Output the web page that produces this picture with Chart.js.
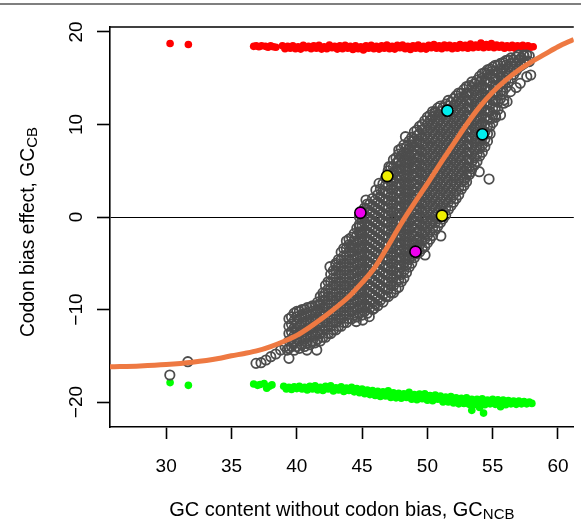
<!DOCTYPE html>
<html>
<head>
<meta charset="utf-8">
<script src="https://cdn.jsdelivr.net/npm/chart.js@4.4.1/dist/chart.umd.min.js"></script>
<style>
  html, body { margin: 0; padding: 0; background: #fff; }
</style>
</head>
<body>
<canvas id="chart" width="581" height="521"></canvas>
<script>
// axis ticks
const xTicks = [30, 35, 40, 45, 50, 55, 60];
const yTicks = [-20, -10, 0, 10, 20];

// red dots along the top (x, y)
const redPoints = [
  [30.3, 18.75], [31.7, 18.65],
  [36.7, 18.45], [36.9, 18.5], [37.1, 18.4], [37.3, 18.5], [37.6, 18.45], [37.8, 18.35], [38.0, 18.5], [38.2, 18.4], [38.4, 18.35],
  [38.9, 18.5], [39.1, 18.2], [39.3, 18.45], [39.5, 18.25], [39.7, 18.5], [39.9, 18.2], [40.1, 18.4], [40.3, 18.15],
  [40.5, 18.55], [40.7, 18.3], [40.9, 18.45], [41.1, 18.2], [41.3, 18.5], [41.5, 18.25], [41.7, 18.55], [41.9, 18.15],
  [42.1, 18.4], [42.3, 18.2], [42.5, 18.6], [42.7, 18.3], [42.9, 18.45], [43.1, 18.15], [43.3, 18.5], [43.5, 18.2],
  [43.7, 18.55], [43.9, 18.25], [44.1, 18.45], [44.3, 18.1], [44.5, 18.5], [44.7, 18.2], [44.9, 18.4], [45.1, 18.05],
  [45.3, 18.5], [45.5, 18.25], [45.7, 18.55], [45.9, 18.2], [46.1, 18.45], [46.3, 18.15], [46.5, 18.5], [46.7, 18.25],
  [46.9, 18.6], [47.1, 18.2], [47.3, 18.45], [47.5, 18.15], [47.7, 18.55], [47.9, 18.3], [48.1, 18.6], [48.3, 18.2],
  [48.5, 18.45], [48.7, 18.1], [48.9, 18.5], [49.1, 18.25], [49.3, 18.6], [49.5, 18.2], [49.7, 18.45], [49.9, 18.15],
  [50.1, 18.55], [50.3, 18.3], [50.5, 18.65], [50.7, 18.25], [50.9, 18.5], [51.1, 18.2], [51.3, 18.6], [51.5, 18.3],
  [51.7, 18.55], [51.9, 18.2], [52.1, 18.5], [52.3, 18.25], [52.5, 18.65], [52.7, 18.3], [52.9, 18.55], [53.1, 18.25],
  [53.3, 18.7], [53.5, 18.3], [53.7, 18.6], [53.9, 18.35], [54.1, 18.8], [54.3, 18.3], [54.5, 18.65], [54.7, 18.35],
  [54.9, 18.75], [55.1, 18.3], [55.3, 18.6], [55.5, 18.35], [55.7, 18.55], [55.9, 18.25], [56.1, 18.5], [56.3, 18.3],
  [56.5, 18.55], [56.7, 18.25], [56.9, 18.5], [57.1, 18.3], [57.3, 18.55], [57.5, 18.3], [57.7, 18.5], [57.9, 18.35], [58.1, 18.4]
];

// green dots along the bottom (x, y)
const greenPoints = [
  [30.3, -17.9], [31.7, -18.2],
  [36.7, -18.05], [37.0, -18.2], [37.2, -18.1], [37.5, -18.0], [37.7, -18.5], [37.9, -18.3], [38.1, -18.15],
  [39.0, -18.3], [39.2, -18.6], [39.4, -18.4], [39.6, -18.65], [39.8, -18.35], [40.0, -18.55], [40.2, -18.3], [40.4, -18.6],
  [40.6, -18.4], [40.8, -18.7], [41.0, -18.3], [41.2, -18.6], [41.4, -18.25], [41.6, -18.7], [41.8, -18.4], [42.0, -18.75],
  [42.2, -18.3], [42.4, -18.6], [42.6, -18.25], [42.8, -18.8], [43.0, -18.45], [43.2, -18.7], [43.4, -18.35], [43.6, -18.85],
  [43.8, -18.5], [44.0, -18.75], [44.2, -18.4], [44.4, -18.9], [44.6, -18.55], [44.8, -19.0], [45.0, -18.6], [45.2, -19.1],
  [45.4, -18.7], [45.6, -19.2], [45.8, -18.75], [46.0, -19.3], [46.2, -18.85], [46.4, -19.4], [46.6, -18.9], [46.8, -19.35],
  [47.0, -18.8], [47.2, -19.5], [47.4, -19.0], [47.6, -19.55], [47.8, -19.05], [48.0, -19.6], [48.2, -19.1], [48.4, -19.5],
  [48.6, -18.95], [48.8, -19.7], [49.0, -19.2], [49.2, -19.75], [49.4, -19.15], [49.6, -19.65], [49.8, -19.1], [50.0, -19.8],
  [50.2, -19.3], [50.4, -19.85], [50.6, -19.25], [50.8, -19.7], [51.0, -19.35], [51.2, -20.0], [51.4, -19.45], [51.6, -20.0],
  [51.8, -19.4], [52.0, -20.1], [52.2, -19.55], [52.4, -20.2], [52.6, -19.6], [52.8, -20.15], [53.0, -19.55], [53.2, -20.25],
  [53.4, -19.7], [53.6, -20.3], [53.8, -19.7], [54.0, -20.2], [54.2, -19.65], [54.4, -20.3], [54.6, -19.8], [54.8, -20.2],
  [55.0, -19.7], [55.2, -20.25], [55.4, -19.75], [55.6, -20.2], [55.8, -19.8], [56.0, -20.3], [56.2, -19.85], [56.4, -20.2],
  [56.6, -19.9], [56.8, -20.25], [57.0, -19.9], [57.2, -20.2], [57.4, -19.95], [57.6, -20.2], [57.8, -20.0], [58.0, -20.15],
  [45.1, -18.9], [45.7, -18.95], [46.1, -19.05], [46.7, -19.1], [47.1, -19.15], [47.7, -19.3], [48.1, -19.35], [48.7, -19.35],
  [49.1, -19.45], [49.7, -19.4], [50.1, -19.55], [50.7, -19.5], [51.1, -19.7], [51.7, -19.7], [52.1, -19.8], [52.7, -19.9],
  [53.1, -19.9], [53.7, -20.0], [54.1, -19.95], [54.7, -20.0], [55.1, -20.0],
  [53.4, -20.9], [54.3, -21.2], [54.0, -20.6], [55.6, -20.5]
];

// dense part of the grey cloud: each row is [x, y, y, ...]
const grayColumns = [
  [39.4, -14.2, -13.4, -12.6, -11.8, -11.0],
  [39.6, -14.0, -13.2, -12.4, -11.6, -10.8],
  [39.8, -14.4, -13.6, -12.8, -12.0, -11.2, -10.4],
  [40.0, -14.0, -13.2, -12.4, -11.6, -10.8, -10.2],
  [40.2, -14.2, -13.4, -12.6, -11.8, -11.0, -10.2],
  [40.4, -13.8, -13.0, -12.2, -11.4, -10.6, -10.0],
  [40.6, -14.0, -13.2, -12.4, -11.6, -10.8, -10.0],
  [40.8, -13.6, -12.8, -12.0, -11.2, -10.4, -9.8],
  [41.0, -13.8, -13.0, -12.2, -11.4, -10.6, -9.8],
  [41.2, -13.4, -12.6, -11.8, -11.0, -10.2, -9.6],
  [41.4, -13.6, -12.8, -12.0, -11.2, -10.4, -9.6],
  [41.6, -13.2, -12.4, -11.6, -10.8, -10.0, -9.2],
  [41.8, -13.4, -12.6, -11.8, -11.0, -10.2, -9.4, -8.6],
  [42.0, -13.0, -12.2, -11.4, -10.6, -9.8, -9.0, -8.2],
  [42.2, -13.0, -12.2, -11.4, -10.6, -9.8, -9.0, -8.2, -7.4],
  [42.4, -12.6, -11.8, -11.0, -10.2, -9.4, -8.6, -7.8, -7.0],
  [42.6, -12.6, -11.8, -11.0, -10.2, -9.4, -8.6, -7.8, -7.0, -6.2],
  [42.8, -12.2, -11.4, -10.6, -9.8, -9.0, -8.2, -7.4, -6.6, -5.8],
  [43.0, -12.2, -11.4, -10.6, -9.8, -9.0, -8.2, -7.4, -6.6, -5.8, -5.0],
  [43.2, -11.8, -11.0, -10.2, -9.4, -8.6, -7.8, -7.0, -6.2, -5.4, -4.6],
  [43.4, -11.8, -11.0, -10.2, -9.4, -8.6, -7.8, -7.0, -6.2, -5.4, -4.6, -3.8],
  [43.6, -11.4, -10.6, -9.8, -9.0, -8.2, -7.4, -6.6, -5.8, -5.0, -4.2, -3.4],
  [43.8, -11.4, -10.6, -9.8, -9.0, -8.2, -7.4, -6.6, -5.8, -5.0, -4.2, -3.4, -2.6],
  [44.0, -11.0, -10.2, -9.4, -8.6, -7.8, -7.0, -6.2, -5.4, -4.6, -3.8, -3.0, -2.4],
  [44.2, -11.0, -10.2, -9.4, -8.6, -7.8, -7.0, -6.2, -5.4, -4.6, -3.8, -3.0, -2.2],
  [44.4, -10.6, -9.8, -9.0, -8.2, -7.4, -6.6, -5.8, -5.0, -4.2, -3.4, -2.6, -1.8],
  [44.6, -10.8, -10.0, -9.2, -8.4, -7.6, -6.8, -6.0, -5.2, -4.4, -3.6, -2.8, -2.0, -1.2],
  [44.8, -10.4, -9.6, -8.8, -8.0, -7.2, -6.4, -5.6, -4.8, -4.0, -3.2, -2.4, -1.6, -0.8, 0.0],
  [45.0, -10.6, -9.8, -9.0, -8.2, -7.4, -6.6, -5.8, -5.0, -4.2, -3.4, -2.6, -1.8, -1.0, -0.2, 0.6],
  [45.2, -10.2, -9.4, -8.6, -7.8, -7.0, -6.2, -5.4, -4.6, -3.8, -3.0, -2.2, -1.4, -0.6, 0.2, 1.0],
  [45.4, -10.4, -9.6, -8.8, -8.0, -7.2, -6.4, -5.6, -4.8, -4.0, -3.2, -2.4, -1.6, -0.8, 0.0, 0.8, 1.4],
  [45.6, -9.8, -9.0, -8.2, -7.4, -6.6, -5.8, -5.0, -4.2, -3.4, -2.6, -1.8, -1.0, -0.2, 0.6, 1.4],
  [45.8, -10.0, -9.2, -8.4, -7.6, -6.8, -6.0, -5.2, -4.4, -3.6, -2.8, -2.0, -1.2, -0.4, 0.4, 1.2, 2.0],
  [46.0, -9.4, -8.6, -7.8, -7.0, -6.2, -5.4, -4.6, -3.8, -3.0, -2.2, -1.4, -0.6, 0.2, 1.0, 1.8],
  [46.2, -9.6, -8.8, -8.0, -7.2, -6.4, -5.6, -4.8, -4.0, -3.2, -2.4, -1.6, -0.8, 0.0, 0.8, 1.6, 2.4],
  [46.4, -9.0, -8.2, -7.4, -6.6, -5.8, -5.0, -4.2, -3.4, -2.6, -1.8, -1.0, -0.2, 0.6, 1.4, 2.2, 3.0],
  [46.6, -9.2, -8.4, -7.6, -6.8, -6.0, -5.2, -4.4, -3.6, -2.8, -2.0, -1.2, -0.4, 0.4, 1.2, 2.0, 2.8, 3.6],
  [46.8, -8.6, -7.8, -7.0, -6.2, -5.4, -4.6, -3.8, -3.0, -2.2, -1.4, -0.6, 0.2, 1.0, 1.8, 2.6, 3.4, 4.2],
  [47.0, -8.6, -7.8, -7.0, -6.2, -5.4, -4.6, -3.8, -3.0, -2.2, -1.4, -0.6, 0.2, 1.0, 1.8, 2.6, 3.4, 4.2, 5.0],
  [47.2, -8.2, -7.4, -6.6, -5.8, -5.0, -4.2, -3.4, -2.6, -1.8, -1.0, -0.2, 0.6, 1.4, 2.2, 3.0, 3.8, 4.6, 5.4],
  [47.4, -8.2, -7.4, -6.6, -5.8, -5.0, -4.2, -3.4, -2.6, -1.8, -1.0, -0.2, 0.6, 1.4, 2.2, 3.0, 3.8, 4.6, 5.4, 6.2],
  [47.6, -7.8, -7.0, -6.2, -5.4, -4.6, -3.8, -3.0, -2.2, -1.4, -0.6, 0.2, 1.0, 1.8, 2.6, 3.4, 4.2, 5.0, 5.8, 6.4],
  [47.8, -7.6, -6.8, -6.0, -5.2, -4.4, -3.6, -2.8, -2.0, -1.2, -0.4, 0.4, 1.2, 2.0, 2.8, 3.6, 4.4, 5.2, 6.0, 6.8],
  [48.0, -7.0, -6.2, -5.4, -4.6, -3.8, -3.0, -2.2, -1.4, -0.6, 0.2, 1.0, 1.8, 2.6, 3.4, 4.2, 5.0, 5.8, 6.6, 7.4],
  [48.2, -6.6, -5.8, -5.0, -4.2, -3.4, -2.6, -1.8, -1.0, -0.2, 0.6, 1.4, 2.2, 3.0, 3.8, 4.6, 5.4, 6.2, 7.0, 7.8],
  [48.4, -6.0, -5.2, -4.4, -3.6, -2.8, -2.0, -1.2, -0.4, 0.4, 1.2, 2.0, 2.8, 3.6, 4.4, 5.2, 6.0, 6.8, 7.6],
  [48.6, -5.4, -4.6, -3.8, -3.0, -2.2, -1.4, -0.6, 0.2, 1.0, 1.8, 2.6, 3.4, 4.2, 5.0, 5.8, 6.6, 7.4, 8.2],
  [48.8, -5.0, -4.2, -3.4, -2.6, -1.8, -1.0, -0.2, 0.6, 1.4, 2.2, 3.0, 3.8, 4.6, 5.4, 6.2, 7.0, 7.8, 8.6],
  [49.0, -4.4, -3.6, -2.8, -2.0, -1.2, -0.4, 0.4, 1.2, 2.0, 2.8, 3.6, 4.4, 5.2, 6.0, 6.8, 7.6, 8.4, 9.2],
  [49.2, -4.0, -3.2, -2.4, -1.6, -0.8, 0.0, 0.8, 1.6, 2.4, 3.2, 4.0, 4.8, 5.6, 6.4, 7.2, 8.0, 8.8, 9.4],
  [49.4, -3.8, -3.0, -2.2, -1.4, -0.6, 0.2, 1.0, 1.8, 2.6, 3.4, 4.2, 5.0, 5.8, 6.6, 7.4, 8.2, 9.0, 9.8],
  [49.6, -3.4, -2.6, -1.8, -1.0, -0.2, 0.6, 1.4, 2.2, 3.0, 3.8, 4.6, 5.4, 6.2, 7.0, 7.8, 8.6, 9.4, 10.0],
  [49.8, -3.2, -2.4, -1.6, -0.8, 0.0, 0.8, 1.6, 2.4, 3.2, 4.0, 4.8, 5.6, 6.4, 7.2, 8.0, 8.8, 9.6, 10.4],
  [50.0, -2.8, -2.0, -1.2, -0.4, 0.4, 1.2, 2.0, 2.8, 3.6, 4.4, 5.2, 6.0, 6.8, 7.6, 8.4, 9.2, 10.0, 10.8],
  [50.2, -2.4, -1.6, -0.8, 0.0, 0.8, 1.6, 2.4, 3.2, 4.0, 4.8, 5.6, 6.4, 7.2, 8.0, 8.8, 9.6, 10.4, 11.0],
  [50.4, -2.0, -1.2, -0.4, 0.4, 1.2, 2.0, 2.8, 3.6, 4.4, 5.2, 6.0, 6.8, 7.6, 8.4, 9.2, 10.0, 10.8, 11.4],
  [50.6, -1.4, -0.6, 0.2, 1.0, 1.8, 2.6, 3.4, 4.2, 5.0, 5.8, 6.6, 7.4, 8.2, 9.0, 9.8, 10.6, 11.4],
  [50.8, -1.0, -0.2, 0.6, 1.4, 2.2, 3.0, 3.8, 4.6, 5.4, 6.2, 7.0, 7.8, 8.6, 9.4, 10.2, 11.0, 11.8],
  [51.0, -0.6, 0.2, 1.0, 1.8, 2.6, 3.4, 4.2, 5.0, 5.8, 6.6, 7.4, 8.2, 9.0, 9.8, 10.6, 11.4, 12.0],
  [51.2, -0.2, 0.6, 1.4, 2.2, 3.0, 3.8, 4.6, 5.4, 6.2, 7.0, 7.8, 8.6, 9.4, 10.2, 11.0, 11.8],
  [51.4, 0.2, 1.0, 1.8, 2.6, 3.4, 4.2, 5.0, 5.8, 6.6, 7.4, 8.2, 9.0, 9.8, 10.6, 11.4, 12.2],
  [51.6, 0.8, 1.6, 2.4, 3.2, 4.0, 4.8, 5.6, 6.4, 7.2, 8.0, 8.8, 9.6, 10.4, 11.2, 12.0, 12.6],
  [51.8, 1.2, 2.0, 2.8, 3.6, 4.4, 5.2, 6.0, 6.8, 7.6, 8.4, 9.2, 10.0, 10.8, 11.6, 12.4],
  [52.0, 1.6, 2.4, 3.2, 4.0, 4.8, 5.6, 6.4, 7.2, 8.0, 8.8, 9.6, 10.4, 11.2, 12.0, 12.8],
  [52.2, 2.0, 2.8, 3.6, 4.4, 5.2, 6.0, 6.8, 7.6, 8.4, 9.2, 10.0, 10.8, 11.6, 12.4, 13.1],
  [52.4, 2.4, 3.2, 4.0, 4.8, 5.6, 6.4, 7.2, 8.0, 8.8, 9.6, 10.4, 11.2, 12.0, 12.8, 13.4],
  [52.6, 3.0, 3.8, 4.6, 5.4, 6.2, 7.0, 7.8, 8.6, 9.4, 10.2, 11.0, 11.8, 12.6, 13.4],
  [52.8, 3.4, 4.2, 5.0, 5.8, 6.6, 7.4, 8.2, 9.0, 9.8, 10.6, 11.4, 12.2, 13.0, 13.8],
  [53.0, 3.8, 4.6, 5.4, 6.2, 7.0, 7.8, 8.6, 9.4, 10.2, 11.0, 11.8, 12.6, 13.4, 14.1],
  [53.2, 4.6, 5.4, 6.2, 7.0, 7.8, 8.6, 9.4, 10.2, 11.0, 11.8, 12.6, 13.4, 14.2],
  [53.4, 5.2, 6.0, 6.8, 7.6, 8.4, 9.2, 10.0, 10.8, 11.6, 12.4, 13.2, 14.0, 14.6],
  [53.6, 5.6, 6.4, 7.2, 8.0, 8.8, 9.6, 10.4, 11.2, 12.0, 12.8, 13.6, 14.4],
  [53.8, 6.0, 6.8, 7.6, 8.4, 9.2, 10.0, 10.8, 11.6, 12.4, 13.2, 14.0, 14.8],
  [54.0, 6.6, 7.4, 8.2, 9.0, 9.8, 10.6, 11.4, 12.2, 13.0, 13.8, 14.6, 15.2],
  [54.2, 7.0, 7.8, 8.6, 9.4, 10.2, 11.0, 11.8, 12.6, 13.4, 14.2, 15.0, 15.5],
  [54.4, 7.6, 8.4, 9.2, 10.0, 10.8, 11.6, 12.4, 13.2, 14.0, 14.8, 15.6],
  [54.6, 8.2, 9.0, 9.8, 10.6, 11.4, 12.2, 13.0, 13.8, 14.6, 15.4, 15.9],
  [54.8, 9.0, 9.8, 10.6, 11.4, 12.2, 13.0, 13.8, 14.6, 15.4, 16.0],
  [55.0, 10.2, 11.0, 11.8, 12.6, 13.4, 14.2, 15.0, 15.8, 16.2],
  [55.2, 11.0, 11.8, 12.6, 13.4, 14.2, 15.0, 15.8, 16.4],
  [55.4, 11.6, 12.4, 13.2, 14.0, 14.8, 15.6, 16.4],
  [55.6, 12.8, 13.6, 14.4, 15.2, 16.0, 16.6],
  [55.8, 13.6, 14.4, 15.2, 16.0, 16.7],
  [56.0, 14.0, 14.8, 15.6, 16.4, 16.9],
  [56.2, 14.6, 15.4, 16.2, 17.0],
  [56.4, 15.0, 15.8, 16.6, 17.2],
  [56.6, 15.4, 16.2, 17.0],
  [56.8, 15.8, 16.6, 17.3],
  [57.0, 16.2, 17.0, 17.5],
  [57.2, 16.4, 17.2],
  [57.4, 16.6, 17.4],
  [57.6, 16.8, 17.5],
  [57.8, 16.8, 17.4]
];

// loose grey circles around the edge of the cloud (x, y)
const grayLoose = [
  [30.28, -17.08], [31.66, -15.64],
  [36.88, -15.82], [37.26, -15.75], [37.64, -15.46], [38.01, -15.1], [38.39, -14.81], [38.77, -14.38],
  [39.1, -14.0], [39.27, -14.38], [39.4, -15.28], [40.78, -14.38], [41.53, -14.38],
  [41.66, -9.51], [42.04, -8.61], [42.54, -5.37], [42.99, -5.19],
  [44.55, -11.3], [45.05, -11.14], [45.55, -10.77], [45.93, -9.87],
  [44.17, -3.2], [44.8, -1.05], [44.9, -1.8], [45.3, 1.84], [46.06, 2.92], [46.3, 3.64],
  [47.06, 5.44], [47.43, 4.9], [47.81, 6.16], [47.81, 7.24], [48.32, 8.68], [48.82, 8.14],
  [48.69, 6.52], [49.07, 5.44], [50.83, 10.5], [50.58, 11.2], [50.45, 9.95],
  [49.32, -2.5], [49.82, -4.1], [50.28, -0.69], [51.03, -2.05],
  [52.84, 4.0], [53.34, 4.9], [53.97, 4.9], [54.72, 4.1],
  [55.23, 10.78], [55.6, 11.03], [55.85, 12.3], [56.1, 12.47], [55.85, 12.65],
  [56.36, 13.55], [56.8, 14.0], [57.11, 14.45], [57.61, 15.17], [57.91, 15.35], [57.36, 17.5]
];

// highlighted genes
const cyanPoints = [[51.53, 11.49], [54.21, 8.94]];
const yellowPoints = [[46.93, 4.43], [51.12, 0.14]];
const magentaPoints = [[44.87, 0.46], [49.09, -3.75]];

// fitted curve
const curveX = [25.7, 28, 30, 32, 34, 35, 36, 37, 38, 39, 40, 41, 42, 43, 44, 45, 46, 47, 48, 49, 50, 51, 52, 53, 54, 55, 56, 57, 58, 59, 60, 61.2];
const curveY = [-16.2, -16.1, -15.95, -15.7, -15.3, -15.0, -14.75, -14.45, -14.0, -13.45, -12.8, -11.9, -10.9, -9.8, -8.6, -7.1, -5.4, -3.1, -0.7, 1.5, 3.6, 5.8, 7.9, 10.0, 11.9, 13.5, 14.8, 15.9, 16.8, 17.6, 18.4, 19.2];

const FONT = "'Liberation Sans', Arial, Helvetica, sans-serif";
const toXY = arr => arr.map(p => ({ x: p[0], y: p[1] }));
const grayData = grayColumns.flatMap(([x, ...ys]) => ys.map(y => ({ x, y }))).concat(toXY(grayLoose));
const curveData = curveX.map((x, i) => ({ x, y: curveY[i] }));

function dots(data, color, r) {
  return { data: toXY(data), pointRadius: r, pointBorderWidth: 0, backgroundColor: color, borderColor: color };
}
function marked(data, color) {
  return { data: toXY(data), pointRadius: 5.6, pointBorderWidth: 1.6, backgroundColor: color, borderColor: '#000' };
}

// draws a label with a subscript, centred on (cx, base)
function subText(ctx, main, sub, cx, base, size) {
  const big = size + 'px ' + FONT, small = '15px ' + FONT;
  ctx.font = big;
  const w1 = ctx.measureText(main).width;
  ctx.font = small;
  const w2 = ctx.measureText(sub).width;
  const x0 = cx - (w1 + w2) / 2;
  ctx.textAlign = 'left';
  ctx.font = big;
  ctx.fillText(main, x0, base);
  ctx.font = small;
  ctx.fillText(sub, x0 + w1, base + 3);
}

const rFrame = {
  id: 'rFrame',
  afterDraw(chart) {
    const { ctx, chartArea: a, scales: { x, y } } = chart;
    ctx.save();
    ctx.strokeStyle = '#555';
    ctx.lineWidth = 1.5;
    ctx.beginPath(); ctx.moveTo(0, 4); ctx.lineTo(chart.width, 4); ctx.stroke();
    ctx.strokeStyle = '#000';
    ctx.lineWidth = 1.6;
    ctx.beginPath(); ctx.moveTo(a.left, a.top); ctx.lineTo(a.right, a.top); ctx.stroke();

    ctx.fillStyle = '#000';
    ctx.font = '19px ' + FONT;
    ctx.textAlign = 'center';
    ctx.textBaseline = 'alphabetic';
    x.ticks.forEach(t => ctx.fillText(String(t.value), x.getPixelForValue(t.value), 472));
    y.ticks.forEach(t => {
      ctx.save();
      ctx.translate(82, y.getPixelForValue(t.value));
      ctx.rotate(-Math.PI / 2);
      ctx.fillText(String(t.value).replace('-', '\u2212'), 0, 0);
      ctx.restore();
    });

    subText(ctx, 'GC content without codon bias, GC', 'NCB', (a.left + a.right) / 2, 516, 20);
    ctx.save();
    ctx.translate(34, (a.top + a.bottom) / 2 + 5);
    ctx.rotate(-Math.PI / 2);
    subText(ctx, 'Codon bias effect, GC', 'CB', 0, 0, 19.3);
    ctx.restore();
    ctx.restore();
  }
};

new Chart(document.getElementById('chart'), {
  type: 'scatter',
  data: {
    datasets: [
      marked(cyanPoints, '#00eeee'),
      marked(yellowPoints, '#eeee00'),
      marked(magentaPoints, '#ee00ee'),
      { data: curveData, showLine: true, borderColor: '#ee7942', borderWidth: 5, pointRadius: 0,
        cubicInterpolationMode: 'monotone', fill: false },
      { data: grayData, pointRadius: 4.7, pointBorderWidth: 1.8, borderColor: '#4d4d4d', backgroundColor: 'rgba(0,0,0,0)' },
      dots(redPoints, '#ff0000', 3.8),
      dots(greenPoints, '#00ff00', 3.8)
    ]
  },
  options: {
    responsive: false,
    animation: false,
    events: [],
    layout: { padding: { top: 27, right: 0, bottom: 0, left: 0 } },
    plugins: { legend: { display: false }, tooltip: { enabled: false } },
    scales: {
      x: {
        type: 'linear', min: 25.7, max: 61.21,
        afterBuildTicks: s => { s.ticks = xTicks.map(v => ({ value: v })); },
        afterFit: s => { s.height = 94; },
        ticks: { display: false },
        grid: { drawOnChartArea: false, drawTicks: true, tickLength: 12, tickColor: '#000', tickWidth: 1.6 },
        border: { display: true, color: '#000', width: 1.6 }
      },
      y: {
        type: 'linear', min: -22.7, max: 20.54,
        afterBuildTicks: s => { s.ticks = yTicks.map(v => ({ value: v })); },
        afterFit: s => { s.width = 110; },
        ticks: { display: false },
        grid: {
          color: c => (c.tick && c.tick.value === 0 ? '#000' : 'rgba(0,0,0,0)'),
          lineWidth: 1, drawTicks: true, tickLength: 13, tickColor: '#000', tickWidth: 1.6
        },
        border: { display: true, color: '#000', width: 1.6 }
      }
    }
  },
  plugins: [rFrame]
});
</script>
</body>
</html>
